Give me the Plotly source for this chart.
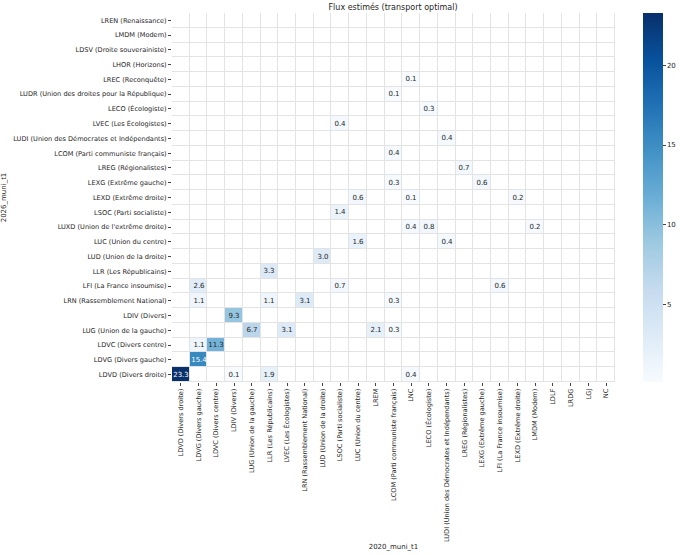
import plotly.graph_objects as go

# lignes (2026) de haut en bas, colonnes (2020) de gauche à droite
rows_2026 = [
    "LREN (Renaissance)", "LMDM (Modem)", "LDSV (Droite souverainiste)",
    "LHOR (Horizons)", "LREC (Reconquête)",
    "LUDR (Union des droites pour la République)", "LECO (Écologiste)",
    "LVEC (Les Écologistes)", "LUDI (Union des Démocrates et Indépendants)",
    "LCOM (Parti communiste français)", "LREG (Régionalistes)",
    "LEXG (Extrême gauche)", "LEXD (Extrême droite)", "LSOC (Parti socialiste)",
    "LUXD (Union de l'extrême droite)", "LUC (Union du centre)",
    "LUD (Union de la droite)", "LLR (Les Républicains)",
    "LFI (La France insoumise)", "LRN (Rassemblement National)",
    "LDIV (Divers)", "LUG (Union de la gauche)", "LDVC (Divers centre)",
    "LDVG (Divers gauche)", "LDVD (Divers droite)",
]
cols_2020 = [
    "LDVD (Divers droite)", "LDVG (Divers gauche)", "LDVC (Divers centre)",
    "LDIV (Divers)", "LUG (Union de la gauche)", "LLR (Les Républicains)",
    "LVEC (Les Écologistes)", "LRN (Rassemblement National)",
    "LUD (Union de la droite)", "LSOC (Parti socialiste)",
    "LUC (Union du centre)", "LREM", "LCOM (Parti communiste français)", "LNC",
    "LECO (Écologiste)", "LUDI (Union des Démocrates et Indépendants)",
    "LREG (Régionalistes)", "LEXG (Extrême gauche)",
    "LFI (La France insoumise)", "LEXD (Extrême droite)", "LMDM (Modem)",
    "LDLF", "LRDG", "LGJ", "NC",
]

# flux non nuls : (ligne 2026, colonne 2020, valeur)
flow_to = ["LREC", "LUDR", "LECO", "LVEC", "LUDI", "LCOM", "LREG",
           "LEXG", "LEXG", "LEXD", "LEXD", "LEXD", "LSOC",
           "LUXD", "LUXD", "LUXD", "LUC", "LUC", "LUD", "LLR",
           "LFI", "LFI", "LFI", "LRN", "LRN", "LRN", "LRN", "LDIV",
           "LUG", "LUG", "LUG", "LUG", "LDVC", "LDVC", "LDVG",
           "LDVD", "LDVD", "LDVD", "LDVD"]
flow_from = ["LNC", "LCOM", "LECO", "LSOC", "LUDI", "LCOM", "LREG",
             "LCOM", "LEXG", "LUC", "LNC", "LEXD", "LSOC",
             "LNC", "LECO", "LMDM", "LUC", "LUDI", "LUD", "LLR",
             "LDVG", "LSOC", "LFI", "LDVG", "LLR", "LRN", "LCOM", "LDIV",
             "LUG", "LVEC", "LREM", "LCOM", "LDVG", "LDVC", "LDVG",
             "LDVD", "LDIV", "LLR", "LNC"]
flow_value = [0.1, 0.1, 0.3, 0.4, 0.4, 0.4, 0.7,
              0.3, 0.6, 0.6, 0.1, 0.2, 1.4,
              0.4, 0.8, 0.2, 1.6, 0.4, 3.0, 3.3,
              2.6, 0.7, 0.6, 1.1, 1.1, 3.1, 0.3, 9.3,
              6.7, 3.1, 2.1, 0.3, 1.1, 11.3, 15.4,
              23.3, 0.1, 1.9, 0.4]


def code(label):
    return label.split(" ")[0]


row_idx = {code(r): i for i, r in enumerate(rows_2026)}
col_idx = {code(c): j for j, c in enumerate(cols_2020)}

vmin, vmax = min(flow_value), max(flow_value)
seuil = (vmin + vmax) / 2  # texte blanc sur les cases foncées

z_clair = [[None] * len(cols_2020) for _ in rows_2026]
z_fonce = [[None] * len(cols_2020) for _ in rows_2026]
for t, f, v in zip(flow_to, flow_from, flow_value):
    if v > seuil:
        z_fonce[row_idx[t]][col_idx[f]] = v
    else:
        z_clair[row_idx[t]][col_idx[f]] = v

blues = [
    [0.0, "#f7fbff"], [0.125, "#deebf7"], [0.25, "#c6dbef"],
    [0.375, "#9ecae1"], [0.5, "#6baed6"], [0.625, "#4292c6"],
    [0.75, "#2171b5"], [0.875, "#08519c"], [1.0, "#08306b"],
]

fig = go.Figure()
# fond blanc pour toutes les cases (les espaces donnent la grille grise)
fig.add_trace(go.Heatmap(
    x=cols_2020, y=rows_2026,
    z=[[0] * len(cols_2020) for _ in rows_2026],
    colorscale=[[0, "white"], [1, "white"]], showscale=False,
    xgap=1, ygap=1, hoverinfo="skip",
))
fig.add_trace(go.Heatmap(
    x=cols_2020, y=rows_2026, z=z_fonce,
    colorscale=blues, zmin=vmin, zmax=vmax, showscale=False,
    xgap=1, ygap=1,
    texttemplate="%{z:.1f}", textfont=dict(size=7, color="white"),
))
fig.add_trace(go.Heatmap(
    x=cols_2020, y=rows_2026, z=z_clair,
    colorscale=blues, zmin=vmin, zmax=vmax,
    xgap=1, ygap=1,
    texttemplate="%{z:.1f}", textfont=dict(size=7, color="#262626"),
    colorbar=dict(
        thickness=20, len=1.0, xref="container", x=0.9456,
        xanchor="left", xpad=0,
        y=0.5, yanchor="middle", ypad=0, outlinewidth=0,
        tickvals=[5, 10, 15, 20], ticks="outside", ticklen=3,
        tickfont=dict(size=7),
    ),
))

fig.update_layout(
    width=680, height=555,
    margin=dict(l=172, r=65, t=13, b=173),
    plot_bgcolor="#e3e3e3", paper_bgcolor="white",
    font=dict(family="DejaVu Sans", size=7, color="#262626"),
    title=dict(text="Flux estimés (transport optimal)", x=0.578,
               xanchor="center", y=1.0, yanchor="top",
               pad=dict(t=4), font=dict(size=8)),
)
fig.update_xaxes(
    tickangle=-90, ticks="outside", ticklen=3, showgrid=False,
    automargin=False, tickfont=dict(size=6.6),
    title=dict(text="2020_muni_t1", standoff=3, font=dict(size=7)),
)
fig.update_yaxes(
    autorange="reversed", ticks="outside", ticklen=3, showgrid=False,
    automargin=False, tickfont=dict(size=6.6),
    title=dict(text="2026_muni_t1", standoff=6, font=dict(size=7)),
)

# pas de marge de page autour de la figure, pas de barre d'outils
fig.write_html("out.html", config={"displayModeBar": False},
               post_script="document.body.style.margin = '0';")
